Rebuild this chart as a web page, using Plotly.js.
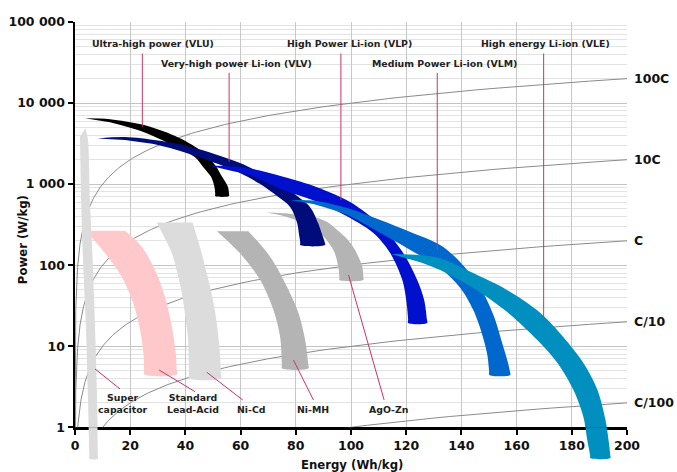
<!DOCTYPE html>
<html>
<head>
<meta charset="utf-8">
<script src="https://cdn.plot.ly/plotly-3.0.1.min.js"></script>
<style>html,body{margin:0;padding:0;background:#fff;}</style>
</head>
<body>
<div id="chart" style="width:677px;height:472px;"></div>
<script>
// ---------- axis ticks ----------
const xTickVals = [0, 20, 40, 60, 80, 100, 120, 140, 160, 180, 200];
const yTickVals = [1, 10, 100, 1000, 10000, 100000];
const yTickText = ['1', '10', '100', '1 000', '10 000', '100 000'];

// ---------- constant C-rate guide lines (P = rate x E) ----------
const cRates = [100, 10, 1, 0.1, 0.01];
const cRateLabels = ['100C', '10C', 'C', 'C/10', 'C/100'];

// ---------- technology regions (Energy Wh/kg, Power W/kg) ----------
const leadAcidOuterE = [18.1, 24.2, 29.0, 32.6, 35.1, 36.5, 36.85, 36.9];
const leadAcidOuterP = [266, 169, 87.1, 40.8, 17.4, 8.17, 5.2, 4.50];
const leadAcidInnerE = [3.9, 10.9, 16.9, 21.1, 23.6, 24.8, 25.05, 25.1];
const leadAcidInnerP = [266, 140, 71.9, 33.8, 15.8, 8.17, 5.2, 4.50];

const superCapRightE = [3.8, 4.7, 5.4, 6.4, 7.3, 8.0, 8.28, 8.3];
const superCapRightP = [4910, 3490, 635, 116, 15.8, 2.17, 0.45, 0.41];
const superCapLeftE  = [3.8, 1.8, 2.2, 2.9, 4.0, 4.7, 5.18, 5.2];
const superCapLeftP  = [4910, 3800, 635, 116, 15.8, 2.17, 0.45, 0.41];

const niCdOuterE = [42.6, 46.1, 47.9, 49.7, 51.1, 52.0, 52.6, 52.88, 52.9];
const niCdOuterP = [335, 133, 75.5, 41.6, 22.3, 12.6, 7.16, 4.6, 4.02];
const niCdInnerE = [29.6, 32.3, 35.1, 37.0, 38.7, 39.9, 40.9, 41.2, 41.3, 41.3];
const niCdInnerP = [335, 222, 140, 82.2, 44.9, 24.3, 13.0, 7.16, 4.6, 4.02];

const niMHOuterE = [62.8, 70.7, 76.8, 81.0, 83.4, 84.5, 84.6];
const niMHOuterP = [263, 127, 54.2, 25.5, 11.9, 6.0, 5.34];
const niMHInnerE = [51.4, 59.8, 67.1, 71.9, 74.3, 74.95, 75.0];
const niMHInnerP = [263, 140, 65.5, 27.9, 13.1, 6.0, 5.34];

const agoZnOuterE = [69.3, 74.3, 81.6, 86.3, 91.4, 95.0, 98.6, 100.8, 102.6, 104.1, 104.5, 104.5];
const agoZnOuterP = [445, 439, 415, 395, 340, 271, 210, 167, 129, 94.8, 70, 65.5];
const agoZnInnerE = [69.3, 74.3, 81.6, 88.8, 93.6, 95.4, 95.8, 95.8];
const agoZnInnerP = [445, 415, 343, 247, 154, 95.6, 70, 65.5];

const vluOuterE = [3.6, 12.7, 24.3, 36.3, 45.3, 50.8, 53.3, 55.4, 55.8, 55.8];
const vluOuterP = [6500, 6330, 5420, 3910, 2620, 1715, 1230, 926, 760, 711];
const vluInnerE = [3.6, 12.7, 24.3, 36.3, 43.5, 46.4, 49.3, 50.5, 50.8, 50.8];
const vluInnerP = [6500, 5815, 4470, 2940, 2150, 1630, 1230, 926, 760, 711];

const vlvOuterE = [8.2, 18.1, 30.1, 41.7, 50.8, 59.8, 68.9, 76.1, 80.5, 85.2, 88.1, 89.6, 90.5, 90.6];
const vlvOuterP = [3650, 3800, 3440, 2900, 2340, 1820, 1290, 944, 711, 520, 330, 235, 190, 177];
const vlvInnerE = [8.2, 18.1, 30.1, 41.7, 50.8, 59.8, 67.1, 73.2, 78.0, 80.5, 81.2, 81.6, 81.6];
const vlvInnerP = [3650, 3490, 3030, 2340, 1820, 1370, 1000, 711, 520, 330, 235, 190, 177];

const vlpOuterE = [48.2, 57.3, 63.5, 75.4, 87.7, 99.7, 110.6, 118.9, 124.0, 126.5, 127.5, 127.6];
const vlpOuterP = [1715, 1643, 1553, 1231, 918, 600, 312, 141, 65.5, 37.2, 21.5, 19.4];
const vlpInnerE = [48.2, 57.3, 63.5, 75.4, 87.7, 99.7, 108.1, 114.2, 118.6, 120.0, 120.7, 120.7];
const vlpInnerP = [1715, 1446, 1291, 844, 605, 381, 249, 141, 65.5, 37.2, 21.5, 19.4];

const vlmOuterE = [78.0, 86.3, 98.6, 110.6, 121.5, 132.3, 139.6, 146.9, 151.6, 154.8, 156.6, 157.6, 157.7];
const vlmOuterP = [635, 626, 506, 360, 256, 177, 109, 52.3, 24.3, 10.9, 6.76, 4.85, 4.42];
const vlmInnerE = [78.0, 86.3, 98.6, 110.6, 121.5, 132.3, 139.6, 144.3, 147.6, 149.4, 150.05, 150.1];
const vlmInnerP = [635, 567, 415, 249, 154, 92.2, 52.3, 27.9, 13.7, 7.8, 4.85, 4.42];

const vleOuterE = [114.6, 125.1, 132.3, 144.3, 156.6, 168.6, 176.9, 184.2, 189.3, 192.2, 193.3, 193.95, 194.0];
const vleOuterP = [137, 133, 122, 79.8, 49.2, 25.7, 13.0, 6.21, 2.88, 1.23, 0.697, 0.45, 0.418];
const vleInnerE = [114.6, 125.1, 132.3, 144.3, 156.6, 167.5, 174.8, 180.6, 184.2, 185.6, 186.65, 186.7];
const vleInnerP = [137, 109, 87.1, 52.3, 26.4, 11.9, 6.21, 2.88, 1.34, 0.697, 0.45, 0.418];

// ---------- callouts (label text, label anchor, leader line) ----------
const callouts = [
  {text: 'Ultra-high power (VLU)',       e: 28.2,  p: 54300, lineE: [24.4, 24.4],   lineP: [40900, 5090]},
  {text: 'Very-high power Li-ion (VLV)', e: 58.4,  p: 30760, lineE: [55.84, 55.84], lineP: [23560, 1884]},
  {text: 'High Power Li-ion (VLP)',      e: 99.5,  p: 54300, lineE: [96.34, 96.34], lineP: [40900, 635]},
  {text: 'Medium Power Li-ion (VLM)',    e: 133.8, p: 30760, lineE: [131.25, 131.25], lineP: [23560, 154]},
  {text: 'High energy Li-ion (VLE)',     e: 170.6, p: 54300, lineE: [169.8, 169.8], lineP: [40900, 20.0]},
  {text: 'Super<br>capacitor',           e: 17.4,  p: 1.96,  lineE: [7.25, 16.3],   lineP: [5.25, 2.97]},
  {text: 'Standard<br>Lead-Acid',        e: 42.8,  p: 1.96,  lineE: [30.46, 43.5],  lineP: [5.09, 2.75]},
  {text: 'Ni-Cd',                        e: 63.8,  p: 1.66,  lineE: [47.75, 60.8],  lineP: [4.77, 2.17]},
  {text: 'Ni-MH',                        e: 86.4,  p: 1.66,  lineE: [79.15, 86.4],  lineP: [6.76, 2.17]},
  {text: 'AgO-Zn',                       e: 113.6, p: 1.66,  lineE: [99.1, 112.0],  lineP: [75.5, 2.17]}
];

// ---------- build ----------
const FONT = 'DejaVu Sans, Verdana, sans-serif';
const traces = [];

// guide lines
const guideE = [];
for (let i = 0; i <= 300; i++) guideE.push(0.005 * Math.pow(40000, i / 300));
cRates.forEach(function (r) {
  traces.push({
    type: 'scatter', mode: 'lines', x: guideE, y: guideE.map(function (e) { return e * r; }),
    line: {color: '#8a8a8a', width: 1}, hoverinfo: 'skip', showlegend: false,
    xaxis: 'x', yaxis: 'y'
  });
});

function band(outerE, outerP, innerE, innerP, color, xa, ya, tip) {
  const ie = tip ? innerE.slice(1) : innerE.slice();
  const ip = tip ? innerP.slice(1) : innerP.slice();
  return {
    type: 'scatter', mode: 'lines',
    x: outerE.concat(ie.reverse()), y: outerP.concat(ip.reverse()),
    fill: 'toself', fillcolor: color,
    line: {width: 0, color: color, shape: 'spline', smoothing: 0.9, simplify: false},
    hoverinfo: 'skip', showlegend: false, xaxis: xa, yaxis: ya
  };
}

const C_LIGHT = '#dcdcdc', C_PINK = '#ffc9cc', C_GREY = '#b4b4b4';
traces.push(band(leadAcidOuterE, leadAcidOuterP, leadAcidInnerE, leadAcidInnerP, C_PINK, 'x', 'y', false));
traces.push(band(superCapRightE, superCapRightP, superCapLeftE, superCapLeftP, C_LIGHT, 'x', 'y', true));
traces.push(band(niCdOuterE, niCdOuterP, niCdInnerE, niCdInnerP, C_LIGHT, 'x', 'y', false));
traces.push(band(niMHOuterE, niMHOuterP, niMHInnerE, niMHInnerP, C_GREY, 'x', 'y', false));
traces.push(band(agoZnOuterE, agoZnOuterP, agoZnInnerE, agoZnInnerP, C_GREY, 'x', 'y', true));
traces.push(band(vluOuterE, vluOuterP, vluInnerE, vluInnerP, '#000000', 'x', 'y', true));
traces.push(band(vlvOuterE, vlvOuterP, vlvInnerE, vlvInnerP, '#000c7a', 'x', 'y', true));
traces.push(band(vlpOuterE, vlpOuterP, vlpInnerE, vlpInnerP, '#0010cc', 'x', 'y', true));
traces.push(band(vlmOuterE, vlmOuterP, vlmInnerE, vlmInnerP, '#0068cc', 'x', 'y', true));
traces.push(band(vleOuterE, vleOuterP, vleInnerE, vleInnerP, '#008fbf', 'x', 'y', true));
// parts that run below the energy axis
traces.push(band(superCapRightE, superCapRightP, superCapLeftE, superCapLeftP, C_LIGHT, 'x2', 'y2', true));
traces.push(band(vleOuterE, vleOuterP, vleInnerE, vleInnerP, '#008fbf', 'x2', 'y2', true));

// leader lines
callouts.forEach(function (c) {
  traces.push({
    type: 'scatter', mode: 'lines', x: c.lineE, y: c.lineP,
    line: {color: '#cc3366', width: 1}, hoverinfo: 'skip', showlegend: false,
    xaxis: 'x', yaxis: 'y'
  });
});

const annotations = [];
callouts.forEach(function (c) {
  annotations.push({
    xref: 'x', yref: 'y', x: c.e, y: Math.log10(c.p), text: '<b>' + c.text.split('<br>').join('</b><br><b>') + '</b>',
    showarrow: false, xanchor: 'center', yanchor: 'middle', align: 'center',
    font: {family: FONT, size: 9.4, color: '#222'}
  });
});
cRates.forEach(function (r, i) {
  annotations.push({
    xref: 'paper', yref: 'y', x: 1, xshift: 5, y: Math.log10(r * 200), text: '<b>' + cRateLabels[i] + '</b>',
    showarrow: false, xanchor: 'left', yanchor: 'middle',
    font: {family: FONT, size: 12.5, color: '#111'}
  });
});
annotations.push({
  xref: 'paper', yref: 'paper', x: -0.0942, y: 0.503, text: '<b>Power (W/kg)</b>', textangle: -90,
  showarrow: false, xanchor: 'center', yanchor: 'middle', font: {family: FONT, size: 11.7, color: '#111'}
});
annotations.push({
  xref: 'paper', yref: 'paper', x: 0.5027, y: -0.009, text: '<b>Energy (Wh/kg)</b>',
  showarrow: false, xanchor: 'center', yanchor: 'middle', font: {family: FONT, size: 11.7, color: '#111'}
});

const minorVals = [];
for (let k = 0; k < 5; k++) for (let m = 2; m <= 9; m++) minorVals.push(m * Math.pow(10, k));

const tickFont = {family: 'DejaVu Sans, Verdana, sans-serif', size: 12.5, color: '#111', weight: 'bold'};

const layout = {
  width: 677, height: 472,
  margin: {l: 75, r: 50, t: 22, b: 11, pad: 0},
  paper_bgcolor: '#ffffff', plot_bgcolor: 'rgba(0,0,0,0)',
  showlegend: false,
  xaxis: {
    range: [0, 200], tickmode: 'array', tickvals: xTickVals, anchor: 'y',
    showgrid: true, gridcolor: '#c8c8c8', gridwidth: 1, zeroline: false,
    showline: true, linecolor: '#000', linewidth: 2.5,
    ticks: 'outside', ticklen: 5, tickwidth: 2, tickcolor: '#000',
    tickfont: tickFont,
    layer: 'below traces', automargin: false, fixedrange: true
  },
  yaxis: {
    type: 'log', range: [0, 5], domain: [0.0768, 1], anchor: 'x',
    tickmode: 'array', tickvals: yTickVals, ticktext: yTickText,
    showgrid: true, gridcolor: '#c4c4c4', gridwidth: 1, zeroline: false,
    minor: {tickmode: 'array', tickvals: minorVals, showgrid: true, gridcolor: '#e3e3e3', gridwidth: 1, ticks: ''},
    showline: true, linecolor: '#000', linewidth: 2.5,
    ticks: 'outside', ticklen: 5, tickwidth: 2, tickcolor: '#000',
    tickfont: tickFont,
    layer: 'below traces', automargin: false, fixedrange: true
  },
  xaxis2: {range: [0, 200], anchor: 'y2', visible: false, fixedrange: true},
  yaxis2: {type: 'log', range: [-0.416, 0], domain: [0, 0.0768], anchor: 'x2', visible: false, fixedrange: true},
  annotations: annotations
};

Plotly.newPlot('chart', traces, layout, {displayModeBar: false, staticPlot: true});
</script>
</body>
</html>
